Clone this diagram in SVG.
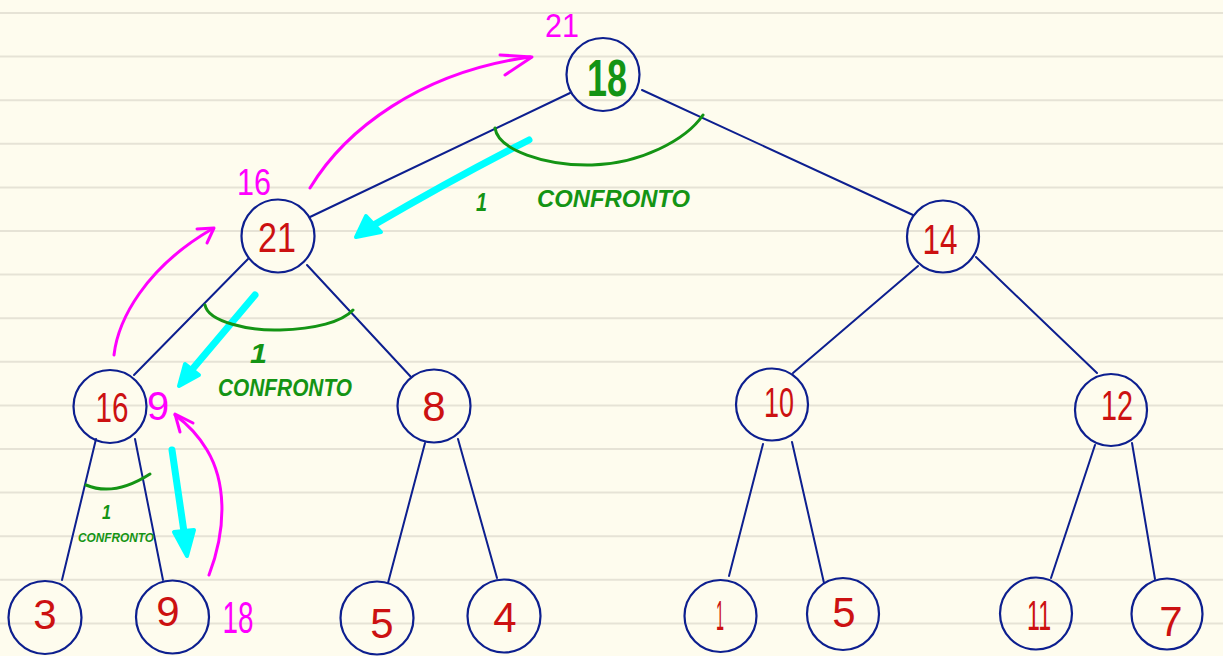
<svg xmlns="http://www.w3.org/2000/svg" width="1223" height="656" viewBox="0 0 1223 656">
  <defs>
    <style>
      .rule { stroke: #e6e3d6; stroke-width: 2; }
      .edge { stroke: #0d1f8f; stroke-width: 2; fill: none; stroke-linecap: round; }
      .node circle { fill: none; stroke: #0d1f8f; stroke-width: 2.2; }
      .num { font-family: "Liberation Sans", "DejaVu Sans", sans-serif; font-size: 42px; fill: #cc1111; text-anchor: middle; }
      .root { fill: #149414; font-weight: bold; font-size: 52px; }
      .mag { fill: none; stroke: #ff00ff; stroke-width: 3; stroke-linecap: round; stroke-linejoin: round; }
      .magt { font-family: "Liberation Sans", "DejaVu Sans", sans-serif; fill: #ff00ff; text-anchor: middle; }
      .cyan { fill: none; stroke: #00ffff; stroke-width: 7; stroke-linecap: round; }
      .cyanhead { fill: #00ffff; stroke: #00ffff; stroke-width: 4; stroke-linejoin: round; }
      .arc { fill: none; stroke: #149414; stroke-width: 3; stroke-linecap: round; }
      .gt { font-family: "Liberation Sans", "DejaVu Sans", sans-serif; fill: #149414; font-weight: bold; font-style: italic; }
    </style>
  </defs>

  <!-- notebook paper -->
  <rect width="1223" height="656" fill="#fefcee"/>
  <g id="paper">
    <line class="rule" x1="0" y1="13" x2="1223" y2="13"/>
    <line class="rule" x1="0" y1="56.6" x2="1223" y2="56.6"/>
    <line class="rule" x1="0" y1="100.2" x2="1223" y2="100.2"/>
    <line class="rule" x1="0" y1="143.8" x2="1223" y2="143.8"/>
    <line class="rule" x1="0" y1="187.4" x2="1223" y2="187.4"/>
    <line class="rule" x1="0" y1="231" x2="1223" y2="231"/>
    <line class="rule" x1="0" y1="274.6" x2="1223" y2="274.6"/>
    <line class="rule" x1="0" y1="318.2" x2="1223" y2="318.2"/>
    <line class="rule" x1="0" y1="361.8" x2="1223" y2="361.8"/>
    <line class="rule" x1="0" y1="405.4" x2="1223" y2="405.4"/>
    <line class="rule" x1="0" y1="449" x2="1223" y2="449"/>
    <line class="rule" x1="0" y1="492.6" x2="1223" y2="492.6"/>
    <line class="rule" x1="0" y1="536.2" x2="1223" y2="536.2"/>
    <line class="rule" x1="0" y1="579.8" x2="1223" y2="579.8"/>
    <line class="rule" x1="0" y1="623.4" x2="1223" y2="623.4"/>
  </g>

  <!-- tree edges -->
  <g id="connectors">
    <line class="edge" x1="570" y1="93" x2="310" y2="217"/>
    <line class="edge" x1="642" y1="90" x2="913" y2="215"/>
    <line class="edge" x1="248" y1="259" x2="134" y2="375"/>
    <line class="edge" x1="307" y1="265" x2="411" y2="377"/>
    <line class="edge" x1="96" y1="439" x2="62" y2="580"/>
    <line class="edge" x1="135" y1="439" x2="163" y2="580"/>
    <line class="edge" x1="425" y1="443" x2="388" y2="583"/>
    <line class="edge" x1="458" y1="439" x2="497" y2="578"/>
    <line class="edge" x1="918" y1="266" x2="793" y2="373"/>
    <line class="edge" x1="976" y1="257" x2="1097" y2="373"/>
    <line class="edge" x1="763" y1="444" x2="729" y2="576"/>
    <line class="edge" x1="792" y1="442" x2="824" y2="583"/>
    <line class="edge" x1="1095" y1="445" x2="1051" y2="578"/>
    <line class="edge" x1="1132" y1="443" x2="1155" y2="579"/>
  </g>

  <!-- heap nodes -->
  <g id="node-root" class="node">
    <circle cx="603" cy="74.5" r="36.5"/>
    <text class="num root" x="607" y="96" textLength="40" lengthAdjust="spacingAndGlyphs">18</text>
  </g>
  <g id="node-21" class="node">
    <circle cx="278" cy="236" r="36.5"/>
    <text class="num" x="277" y="252" textLength="38" lengthAdjust="spacingAndGlyphs">21</text>
  </g>
  <g id="node-14" class="node">
    <circle cx="943" cy="236.5" r="36"/>
    <text class="num" x="940" y="254" textLength="35" lengthAdjust="spacingAndGlyphs">14</text>
  </g>
  <g id="node-16" class="node">
    <circle cx="110" cy="406.5" r="36.5"/>
    <text class="num" x="112" y="422" textLength="33" lengthAdjust="spacingAndGlyphs">16</text>
  </g>
  <g id="node-8" class="node">
    <circle cx="434" cy="406" r="36.5"/>
    <text class="num" x="434" y="421">8</text>
  </g>
  <g id="node-10" class="node">
    <circle cx="772" cy="404.5" r="36"/>
    <text class="num" x="779" y="417" textLength="30" lengthAdjust="spacingAndGlyphs">10</text>
  </g>
  <g id="node-12" class="node">
    <circle cx="1111" cy="410" r="36"/>
    <text class="num" x="1117" y="420" textLength="32" lengthAdjust="spacingAndGlyphs">12</text>
  </g>
  <g id="node-3" class="node">
    <circle cx="45" cy="617.5" r="36.5"/>
    <text class="num" x="45" y="629">3</text>
  </g>
  <g id="node-9" class="node">
    <circle cx="172.5" cy="617" r="36.5"/>
    <text class="num" x="168" y="626">9</text>
  </g>
  <g id="node-5a" class="node">
    <circle cx="377" cy="618" r="36.5"/>
    <text class="num" x="382" y="638">5</text>
  </g>
  <g id="node-4" class="node">
    <circle cx="504" cy="616" r="36.5"/>
    <text class="num" x="505" y="632">4</text>
  </g>
  <g id="node-1" class="node">
    <circle cx="720.5" cy="616" r="36"/>
    <text class="num" x="720" y="630" textLength="8" lengthAdjust="spacingAndGlyphs">1</text>
  </g>
  <g id="node-5b" class="node">
    <circle cx="843" cy="614" r="36"/>
    <text class="num" x="844" y="627">5</text>
  </g>
  <g id="node-11" class="node">
    <circle cx="1036" cy="613.5" r="36"/>
    <text class="num" x="1039" y="630" textLength="24" lengthAdjust="spacingAndGlyphs">11</text>
  </g>
  <g id="node-7" class="node">
    <circle cx="1167" cy="614" r="35.5"/>
    <text class="num" x="1171" y="636">7</text>
  </g>

  <!-- swap arrows (magenta) -->
  <g id="swaps">
    <path class="mag" d="M310,188 C345,130 420,72 530,57"/>
    <path class="mag" d="M500,55 L532,57 L505,75"/>
    <path class="mag" d="M114,355 C118,320 145,268 212,229"/>
    <path class="mag" d="M197,229 L214,228 L207,243"/>
    <path class="mag" d="M209,575 C228,525 225,480 207,450 C198,435 186,423 175,415"/>
    <path class="mag" d="M180,432 L175,414 L193,423"/>
    <text class="magt" x="562" y="37" font-size="33" textLength="34" lengthAdjust="spacingAndGlyphs">21</text>
    <text class="magt" x="254" y="195" font-size="36" textLength="34" lengthAdjust="spacingAndGlyphs">16</text>
    <text class="magt" x="158" y="420" font-size="40">9</text>
    <text class="magt" x="238" y="633" font-size="44" textLength="31" lengthAdjust="spacingAndGlyphs">18</text>
  </g>

  <!-- sift-down direction (cyan) -->
  <g id="sift">
    <path class="cyan" d="M529,140 C470,170 420,198 372,226"/>
    <polygon class="cyanhead" points="356,237 366,216 381,232"/>
    <path class="cyan" d="M255,295 L190,372"/>
    <polygon class="cyanhead" points="179,386 185,364 199,375"/>
    <path class="cyan" d="M172,450 L184,532"/>
    <polygon class="cyanhead" points="187,556 174,532 194,530"/>
  </g>

  <!-- comparison arcs and labels (green) -->
  <g id="comparisons">
    <path class="arc" d="M495,128 C498,150 545,166 592,165 C640,164 686,140 703,115"/>
    <text class="gt" x="476" y="211" font-size="25" textLength="11" lengthAdjust="spacingAndGlyphs">1</text>
    <text class="gt" x="537" y="207" font-size="23" textLength="153" lengthAdjust="spacingAndGlyphs">CONFRONTO</text>

    <path class="arc" d="M205,305 C208,322 250,331 280,330 C315,329 342,322 353,310"/>
    <text class="gt" x="250" y="363" font-size="27" textLength="17" lengthAdjust="spacingAndGlyphs">1</text>
    <text class="gt" x="218" y="396" font-size="24" textLength="134" lengthAdjust="spacingAndGlyphs">CONFRONTO</text>

    <path class="arc" d="M86,485 Q114,497 150,474"/>
    <text class="gt" x="102" y="519" font-size="20" textLength="9" lengthAdjust="spacingAndGlyphs">1</text>
    <text class="gt" x="78" y="542" font-size="12" textLength="76" lengthAdjust="spacingAndGlyphs">CONFRONTO</text>
  </g>
</svg>
